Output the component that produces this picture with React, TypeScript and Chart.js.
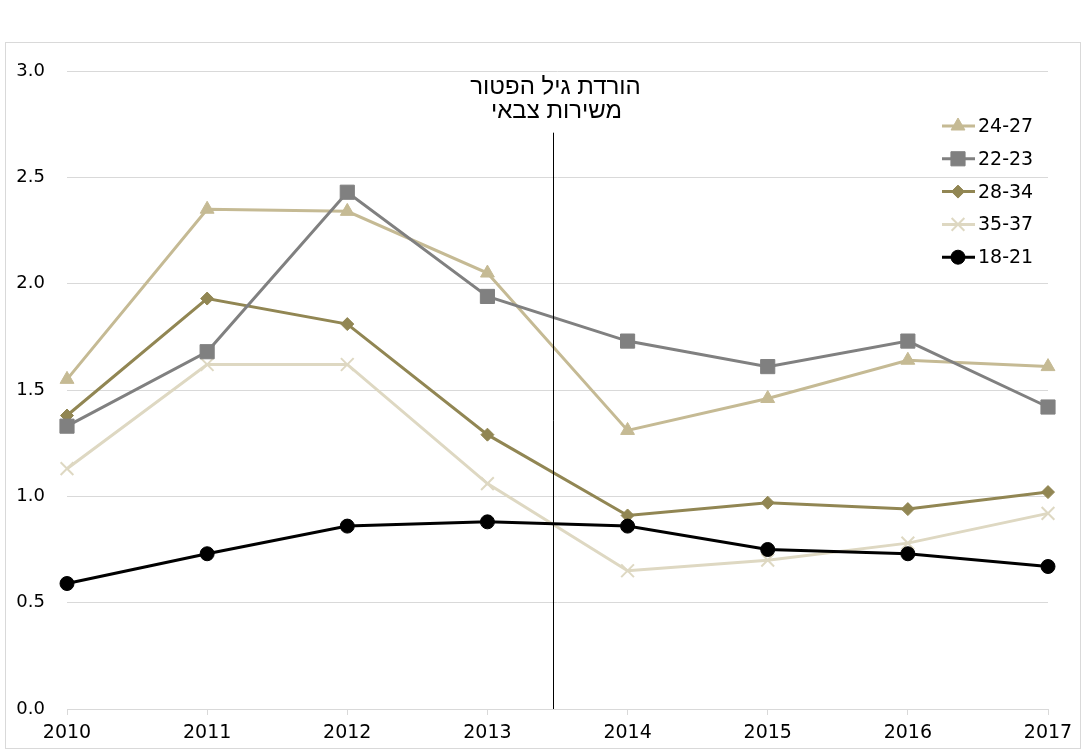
import React, { useEffect, useRef } from "react";
import { Chart, registerables } from "chart.js";
import { drawPoint } from "chart.js/helpers";

Chart.register(...registerables);

const years = ["2010", "2011", "2012", "2013", "2014", "2015", "2016", "2017"];

const s2427 = [1.55, 2.35, 2.34, 2.05, 1.31, 1.46, 1.64, 1.61];
const s2223 = [1.33, 1.68, 2.43, 1.94, 1.73, 1.61, 1.73, 1.42];
const s2834 = [1.38, 1.93, 1.81, 1.29, 0.91, 0.97, 0.94, 1.02];
const s3537 = [1.13, 1.62, 1.62, 1.06, 0.65, 0.7, 0.78, 0.92];
const s1821 = [0.59, 0.73, 0.86, 0.88, 0.86, 0.75, 0.73, 0.67];

const legendLabels = ["24-27", "22-23", "28-34", "35-37", "18-21"];

const dividerIndex = 3.47;
const dividerTopValue = 2.71;
const noteLines = ["הורדת גיל הפטור", "משירות צבאי"];

const TICK_FONT = "DejaVu Sans";

export default function App() {
  const ref = useRef<HTMLCanvasElement | null>(null);

  useEffect(() => {
    const canvas = ref.current;
    if (!canvas) return;

    const annotationPlugin = {
      id: "annot",
      afterDatasetsDraw(chart: any) {
        const ctx = chart.ctx;
        const xs = chart.scales.x;
        const ys = chart.scales.y;
        const x = Math.round(xs.getPixelForValue(dividerIndex)) + 0.5;
        ctx.save();
        ctx.strokeStyle = "#000";
        ctx.lineWidth = 1;
        ctx.beginPath();
        ctx.moveTo(x, ys.getPixelForValue(dividerTopValue));
        ctx.lineTo(x, ys.getPixelForValue(0));
        ctx.stroke();
        ctx.fillStyle = "#000";
        ctx.font = "24px 'Liberation Sans'";
        ctx.textAlign = "center";
        ctx.textBaseline = "middle";
        (ctx as any).direction = "rtl";
        ctx.fillText(noteLines[0], x + 2, 87);
        ctx.fillText(noteLines[1], x + 3, 111);
        ctx.restore();
      },
    };

    const legendPlugin = {
      id: "customLegend",
      afterDraw(chart: any) {
        const ctx = chart.ctx;
        const ds = chart.data.datasets;
        ctx.save();
        ds.forEach((d: any, i: number) => {
          const y = 126 + i * 32.8;
          ctx.strokeStyle = d.borderColor;
          ctx.lineWidth = 3;
          ctx.beginPath();
          ctx.moveTo(942, y);
          ctx.lineTo(975, y);
          ctx.stroke();
          ctx.fillStyle = d.pointBackgroundColor;
          ctx.strokeStyle = d.pointBorderColor;
          ctx.lineWidth = d.pointBorderWidth;
          drawPoint(ctx, { pointStyle: d.pointStyle, rotation: 0, radius: d.pointRadius, borderWidth: d.pointBorderWidth } as any, 958, y);
          ctx.fillStyle = "#000";
          ctx.font = `19px '${TICK_FONT}'`;
          ctx.textAlign = "left";
          ctx.textBaseline = "middle";
          ctx.fillText(d.label, 978, y + 1);
        });
        ctx.restore();
      },
    };

    const mk = (label: string, data: number[], color: string, style: string, radius: number, order: number) => ({
      label,
      data,
      borderColor: color,
      backgroundColor: color,
      pointBackgroundColor: color,
      pointBorderColor: color,
      pointBorderWidth: style === "crossRot" ? 2 : 1,
      borderWidth: 3,
      pointStyle: style,
      pointRadius: radius,
      pointHoverRadius: radius,
      tension: 0,
      order,
    });

    const chart = new Chart(canvas, {
      type: "line",
      data: {
        labels: years,
        datasets: [
          mk(legendLabels[0], s2427, "#C5BA94", "triangle", 8, 3),
          mk(legendLabels[1], s2223, "#808080", "rect", 10, 1),
          mk(legendLabels[2], s2834, "#918653", "rectRot", 6.5, 2),
          mk(legendLabels[3], s3537, "#DED8C2", "crossRot", 9, 4),
          mk(legendLabels[4], s1821, "#000000", "circle", 7, 0),
        ] as any,
      },
      options: {
        responsive: false,
        animation: false,
        devicePixelRatio: 1,
        layout: { padding: { left: 10, right: 43, top: 71, bottom: 0 } },
        plugins: {
          legend: { display: false },
          tooltip: { enabled: false },
        },
        scales: {
          x: {
            offset: false,
            grid: { display: true, drawOnChartArea: false, drawTicks: true, tickLength: 6, color: "#D9D9D9" },
            border: { display: true, color: "#D9D9D9" },
            ticks: { font: { family: TICK_FONT, size: 19 }, color: "#000", padding: 7, maxRotation: 0, autoSkip: false },
            afterFit: (s: any) => {
              s.height = 45;
            },
          },
          y: {
            min: 0,
            max: 3,
            grid: { color: "#D9D9D9", drawTicks: false },
            border: { display: false },
            ticks: {
              stepSize: 0.5,
              padding: 22,
              font: { family: TICK_FONT, size: 18 },
              color: "#000",
              callback: (v: any) => Number(v).toFixed(1),
            },
            afterFit: (s: any) => {
              s.width = 57;
            },
          },
        },
      },
      plugins: [annotationPlugin, legendPlugin],
    });

    return () => chart.destroy();
  }, []);

  return (
    <div style={{ position: "absolute", left: 0, top: 0, width: 1091, height: 754, background: "#fff" }}>
      <div
        style={{
          position: "absolute",
          left: 5,
          top: 42,
          width: 1074,
          height: 705,
          border: "1px solid #D9D9D9",
        }}
      />
      <canvas ref={ref} width={1091} height={754} style={{ position: "absolute", left: 0, top: 0 }} />
    </div>
  );
}
